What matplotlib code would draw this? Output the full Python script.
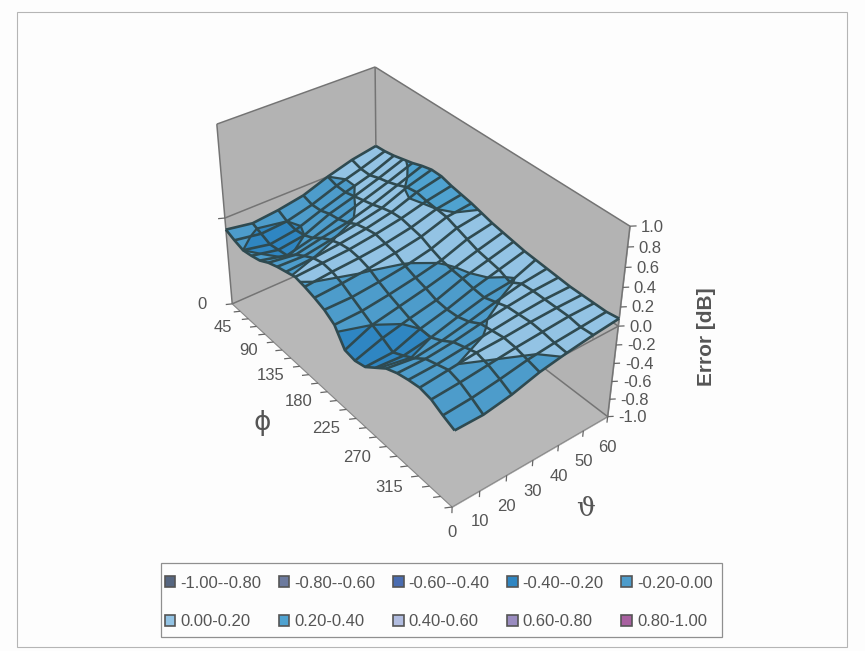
import numpy as np
import matplotlib
matplotlib.use("Agg")
import matplotlib.pyplot as plt
from matplotlib.patches import Patch, Rectangle
from mpl_toolkits.mplot3d import Axes3D
from mpl_toolkits.mplot3d.art3d import Poly3DCollection, Line3DCollection

plt.rcParams['font.family'] = ['Liberation Sans', 'DejaVu Sans']

W, H = 865, 651

# ---------- data ----------
phi = np.arange(0, 360, 15)
theta = np.arange(0, 70, 10)
phi_labels = [0, 45, 90, 135, 180, 225, 270, 315]
theta_labels = [0, 10, 20, 30, 40, 50, 60]
z_labels = [-1.0, -0.8, -0.6, -0.4, -0.2, 0.0, 0.2, 0.4, 0.6, 0.8, 1.0]
error_db = np.array([
    [-.13, -.18, -.15, -.10, .00, .08, .13],
    [-.17, -.22, -.20, -.13, -.03, .05, .14],
    [-.20, -.26, -.22, -.12, -.03, .05, .16],
    [-.18, -.24, -.20, -.08, .00, .09, .19],
    [-.15, -.22, -.15, -.06, .03, .12, .22],
    [-.09, -.13, -.07, -.02, .06, .16, .26],
    [-.05, -.06, -.01, .04, .10, .21, .29],
    [-.02, .00, .03, .07, .13, .23, .29],
    [.01, .03, .05, .09, .14, .21, .26],
    [-.01, .02, .04, .07, .12, .20, .24],
    [-.04, -.02, .01, .05, .10, .19, .22],
    [-.08, -.08, -.05, -.01, .05, .15, .19],
    [-.15, -.14, -.10, -.05, .01, .11, .16],
    [-.33, -.20, -.14, -.08, -.01, .07, .14],
    [-.35, -.25, -.18, -.12, -.02, .05, .12],
    [-.32, -.31, -.20, -.13, -.04, .03, .10],
    [-.23, -.25, -.20, -.12, -.05, -.02, .09],
    [-.14, -.18, -.14, -.08, -.01, .05, .08],
    [-.09, -.09, -.06, -.01, .03, .06, .07],
    [-.06, -.05, -.02, .01, .04, .06, .06],
    [-.04, -.01, .02, .03, .05, .06, .06],
    [-.06, -.04, -.01, .02, .04, .06, .06],
    [-.12, -.10, -.06, -.01, .02, .04, .06],
    [-.17, -.17, -.12, -.04, .01, .05, .08],
])
band_edges = [-1.0, -0.8, -0.6, -0.4, -0.2, 0.0, 0.2, 0.4, 0.6, 0.8, 1.0]
band_labels = ['-1.00--0.80', '-0.80--0.60', '-0.60--0.40', '-0.40--0.20', '-0.20-0.00',
               '0.00-0.20', '0.20-0.40', '0.40-0.60', '0.60-0.80', '0.80-1.00']
band_colors = ['#566680', '#6c7a9e', '#4a6cb0', '#2f86c2', '#4d9ccb',
               '#93c3e4', '#4fa2d0', '#b2bde0', '#9a8cc0', '#a860a0']
phi_label_shift = [-30, -34, -34, -38, -38, -40, -40, -40]

TXT = '#555555'
MESH = '#2f4a50'
WALL = '#b3b3b3'
FLOOR = '#b8b8b8'
EDGE = '#747474'

# ---------- camera fitted to the box corners of the chart ----------
pmax, tmax = phi[-1], theta[-1]
cal_world = [(0, 0, -1), (pmax, 0, -1), (pmax, tmax, -1), (0, 0, 1), (pmax, tmax, 1), (0, tmax, 1), (0, 0, 0), (pmax, tmax, 0)]
cal_pix = [(233, 304), (452, 507), (607, 418), (217, 124), (630, 228), (375, 67), (224, 218), (619, 323)]
rows = []
for (X, Y, Z), (u, v) in zip(cal_world, cal_pix):
    v = H - v
    p = [X / pmax, Y / tmax, Z, 1]
    rows.append(p + [0, 0, 0, 0] + [-u * c / 500 for c in p])
    rows.append([0, 0, 0, 0] + p + [-v * c / 500 for c in p])
P = np.linalg.svd(np.array(rows))[2][-1].reshape(3, 4)
P[2] /= 500
P = P @ np.diag([1 / pmax, 1 / tmax, 1, 1])
P = P / (P[2] @ np.array([pmax / 2, tmax / 2, 0, 1]))

fig = plt.figure(figsize=(W / 100, H / 100), dpi=100, facecolor='#fdfdfd')
ax = fig.add_axes([0, 0, 1, 1], projection='3d', computed_zorder=False)
ax.set_facecolor('none')
ax.set_axis_off()
ax.set_xlim(phi[0], pmax)
ax.set_ylim(theta[0], tmax)
ax.set_zlim(-1, 1)


def fitted_proj():
    A = ax.transData.inverted().get_matrix()
    Q = A @ P
    depth = np.array([-1 / pmax, 1 / tmax, -0.3, 0.0])
    return np.vstack([Q[0], Q[1], depth, Q[2]])


ax.get_proj = fitted_proj


def label_at(x, y, z, dx, dy, s, **kw):
    q = P @ np.array([x, y, z, 1.0])
    fig.text((q[0] / q[2] + dx) / W, (q[1] / q[2] + dy) / H, s, color=TXT, **kw)


def box_poly(verts, color):
    pc = Poly3DCollection([verts], facecolors=color, edgecolors=color, linewidths=0.5, zorder=1)
    ax.add_collection3d(pc, autolim=False)


# walls and floor
box_poly([(0, 0, -1), (0, tmax, -1), (0, tmax, 1), (0, 0, 1)], WALL)
box_poly([(0, tmax, -1), (pmax, tmax, -1), (pmax, tmax, 1), (0, tmax, 1)], WALL)
box_poly([(0, 0, -1), (pmax, 0, -1), (pmax, tmax, -1), (0, tmax, -1)], FLOOR)


def segs(items, color=EDGE, lw=1.0, z=2):
    ax.add_collection3d(Line3DCollection(items, colors=color, linewidths=lw, zorder=z), autolim=False)


segs([((0, 0, 1), (0, tmax, 1)), ((0, tmax, 1), (pmax, tmax, 1)), ((0, 0, -1), (0, 0, 1)),
      ((0, tmax, -1), (0, tmax, 1)), ((pmax, tmax, -1), (pmax, tmax, 1)),
      ((0, 0, -1), (0, tmax, -1)), ((0, tmax, -1), (pmax, tmax, -1)),
      ((0, 0, 0), (0, tmax, 0)), ((0, tmax, 0), (pmax, tmax, 0)),
      ((pmax, 0, 0), (pmax, tmax, 0))], EDGE, 1.1)
segs([((0, 0, -1), (pmax, 0, -1)), ((pmax, 0, -1), (pmax, tmax, -1))], '#8a8a8a', 0.8)

# axis ticks
ticks = [((p, 0, -1), (p - 3.0, -1.9, -1)) for p in phi]
ticks += [((0, 0, 0), (-3.0, -1.9, 0))]
ticks += [((pmax, t, -1), (pmax, t, -1.07)) for t in theta]
ticks += [((pmax, tmax, zv), (pmax + 3.0, tmax + 1.5, zv)) for zv in z_labels]
segs(ticks, '#666666', 0.9)
segs([((pmax, t, 0), (pmax, t, 0.06)) for t in theta], '#7d7d7d', 0.7)

# surface split along the band limits


def clip(poly, level, keep_above):
    out = []
    n = len(poly)
    for k in range(n):
        a, b = poly[k], poly[(k + 1) % n]
        ina = a[2] >= level if keep_above else a[2] <= level
        inb = b[2] >= level if keep_above else b[2] <= level
        if ina:
            out.append(a)
        if ina != inb:
            f = (level - a[2]) / (b[2] - a[2])
            out.append(tuple(a[m] + f * (b[m] - a[m]) for m in range(3)))
    return out


faces, colors = [], []
for i in range(len(phi) - 1):
    for j in range(len(theta) - 1):
        quad = [(phi[ii], theta[jj], error_db[ii, jj]) for ii, jj in
                ((i, j), (i + 1, j), (i + 1, j + 1), (i, j + 1))]
        for b, col in enumerate(band_colors):
            piece = clip(quad, band_edges[b], True)
            piece = clip(piece, band_edges[b + 1], False) if piece else piece
            if len(piece) >= 3:
                faces.append(piece)
                colors.append(col)
surface = Poly3DCollection(faces, facecolors=colors, edgecolors=colors, linewidths=0.3, zorder=3)
ax.add_collection3d(surface, autolim=False)

PHI, THETA = np.meshgrid(phi, theta, indexing='ij')
ax.plot_wireframe(PHI, THETA, error_db, color=MESH, linewidth=1.9, zorder=4)
ax.contour(PHI, THETA, error_db, levels=[-0.4, -0.2, 0.0, 0.2, 0.4], colors=MESH, linewidths=1.6,
           linestyles='solid', zorder=5)

# tick labels
for p, sh in zip(phi_labels, phi_label_shift):
    label_at(p, 0, -1, sh, -1, str(p), ha='center', va='center', fontsize=12)
for t in theta_labels:
    label_at(pmax, t, -1, 0, -26 if t == 0 else -31, str(t), ha='center', va='center', fontsize=12)
for zv in z_labels:
    label_at(pmax, tmax, zv, 11, -1, f'{zv:.1f}', ha='left', va='center', fontsize=12)

fig.text(707 / W, 1 - 337 / H, 'Error [dB]', rotation=90, ha='center', va='center', fontsize=15,
         fontweight='bold', color=TXT)
fig.text(262 / W, 1 - 423 / H, '\u03d5', ha='center', va='center', fontsize=19, color=TXT,
         family=['DejaVu Sans'])
fig.text(586 / W, 1 - 508 / H, '\u03d1', ha='center', va='center', fontsize=19, color=TXT,
         family=['DejaVu Serif'])

# legend (matplotlib fills column by column)
fig.add_artist(Rectangle((161 / W, 1 - 637 / H), (722 - 161) / W, (637 - 563) / H, transform=fig.transFigure,
                         facecolor='#fdfdfd', edgecolor='#8f8f8f', linewidth=0.9))
handles = [Patch(facecolor=c, edgecolor='#555555', linewidth=1.2) for c in band_colors]
order = [k for c in range(5) for k in (c, c + 5)]
leg = fig.legend([handles[k] for k in order], [band_labels[k] for k in order], ncol=5,
                 loc='lower left', bbox_to_anchor=(164.5 / W, 1 - 629 / H, 548 / W, 58 / H),
                 mode='expand', frameon=False,
                 fontsize=12, labelcolor=TXT, handlelength=0.65, handleheight=0.65, handletextpad=0.3,
                 borderaxespad=0, borderpad=0, labelspacing=1.4, columnspacing=0.6)

fig.add_artist(Rectangle((17 / W, 1 - 647 / H), (847 - 17) / W, (647 - 12) / H, transform=fig.transFigure,
                         fill=False, edgecolor='#b5b5b5', linewidth=0.8))
fig.savefig('out.png', dpi=100, facecolor=fig.get_facecolor())
